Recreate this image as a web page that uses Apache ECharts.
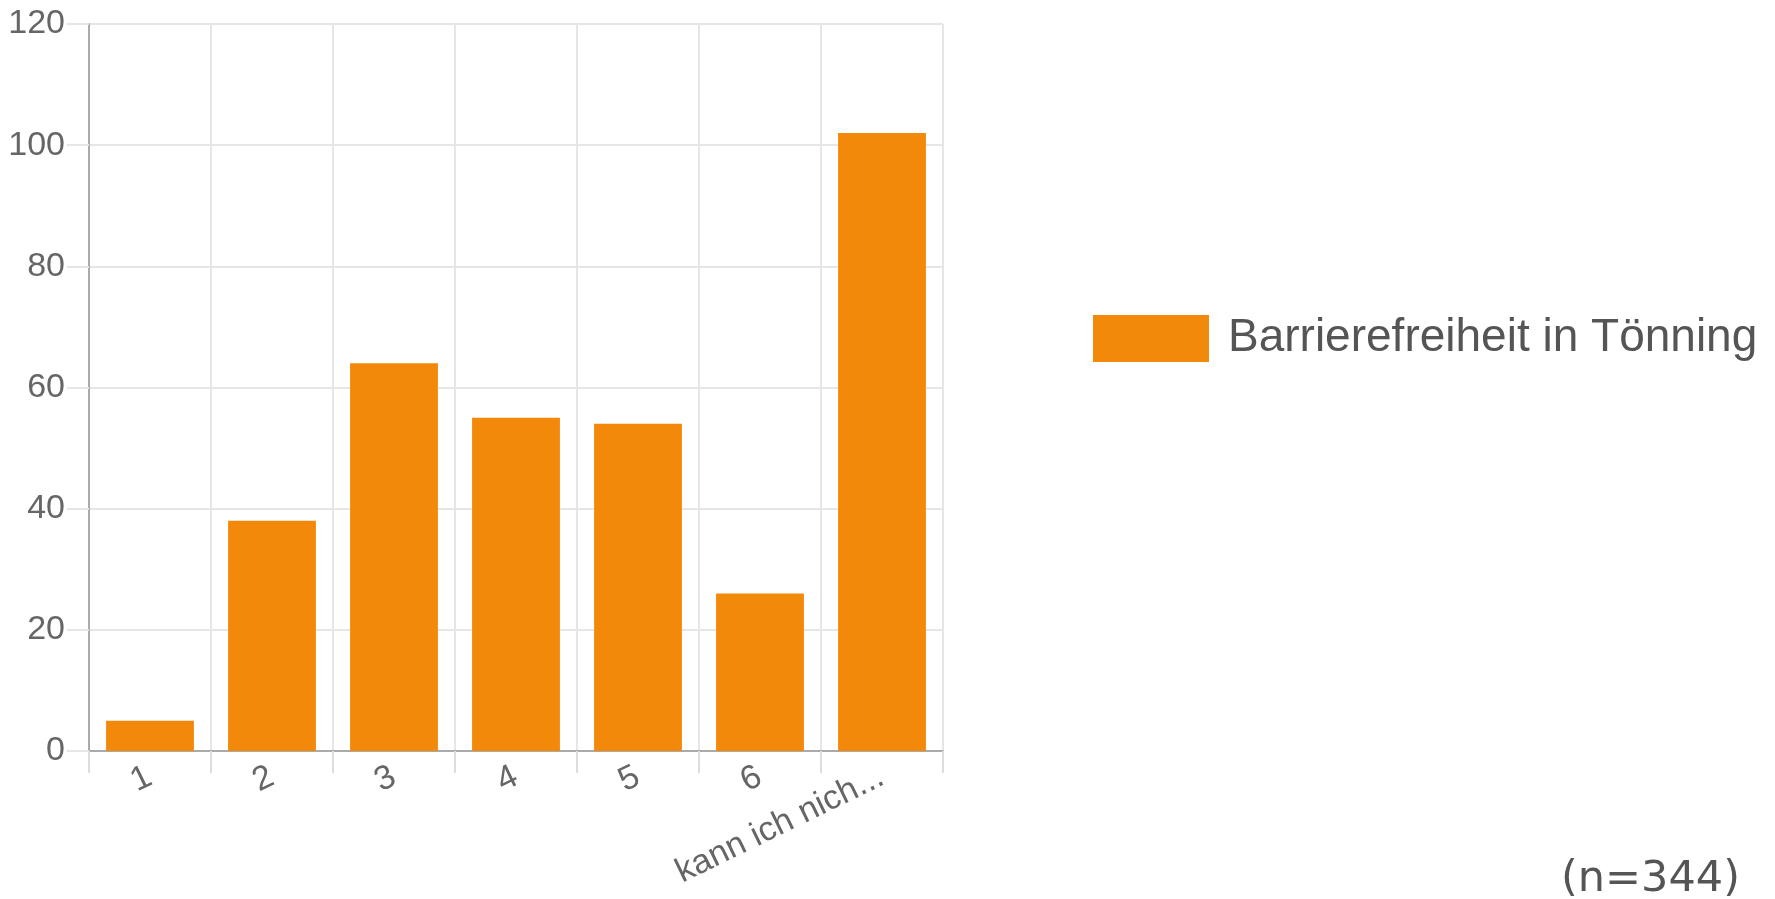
<!DOCTYPE html>
<html>
<head>
<meta charset="utf-8">
<script src="https://cdn.jsdelivr.net/npm/echarts@6/dist/echarts.min.js"></script>
<style>
html,body{margin:0;padding:0;background:#fff;}
#chart{width:1775px;height:899px;}
</style>
</head>
<body>
<div id="chart"></div>
<script>
const categories = ['1', '2', '3', '4', '5', '6', 'kann ich nich...'];
const values = [5, 38, 64, 55, 54, 26, 102];
const seriesName = 'Barrierefreiheit in Tönning';
const yMin = 0, yMax = 120, yInterval = 20;
const noteText = '(n=344)';

const chart = echarts.init(document.getElementById('chart'));
chart.setOption({
  animation: false,
  backgroundColor: '#ffffff',
  grid: { left: 89, right: 832, top: 24, bottom: 148, containLabel: false },
  legend: {
    left: 1088, top: 310,
    itemWidth: 116, itemHeight: 47,
    icon: 'rect',
    data: [seriesName],
    textStyle: { fontFamily: 'Liberation Sans, Arial, sans-serif', fontSize: 46, color: '#555', padding: [0, 0, 0, 14] }
  },
  xAxis: {
    type: 'category',
    data: categories,
    axisLine: { show: true, lineStyle: { color: '#aaa', width: 2 } },
    axisTick: { show: true, length: 22, lineStyle: { color: '#ddd', width: 2 } },
    splitLine: { show: true, lineStyle: { color: '#e6e6e6', width: 2 } },
    axisLabel: { rotate: 26, margin: 24, fontFamily: 'Liberation Sans, Arial, sans-serif', fontSize: 34, color: '#666' }
  },
  yAxis: {
    type: 'value',
    min: yMin, max: yMax, interval: yInterval,
    axisLine: { show: true, lineStyle: { color: '#aaa', width: 2 } },
    axisTick: { show: true, length: 22, lineStyle: { color: '#e6e6e6', width: 2 } },
    splitLine: { show: true, lineStyle: { color: '#e6e6e6', width: 2 } },
    axisLabel: { margin: 24, fontFamily: 'Liberation Sans, Arial, sans-serif', fontSize: 34, color: '#666' }
  },
  series: [{
    name: seriesName,
    type: 'bar',
    data: values,
    barCategoryGap: '28%',
    itemStyle: { color: '#F2890A' }
  }],
  graphic: [{
    type: 'text',
    left: 1561, top: 858,
    style: { text: noteText, fontFamily: 'DejaVu Sans, sans-serif', fontSize: 43, fill: '#555' }
  }]
});
</script>
</body>
</html>
